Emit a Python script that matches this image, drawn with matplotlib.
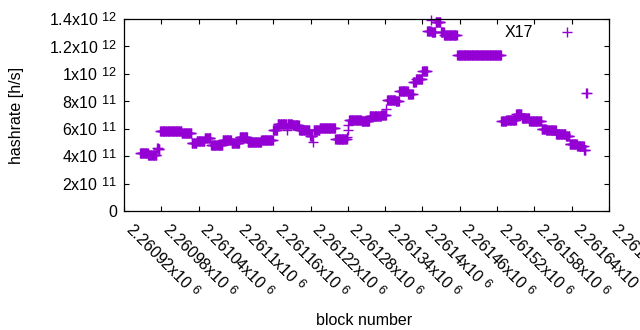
import numpy as np
import matplotlib
matplotlib.use('Agg')
import matplotlib.pyplot as plt
import matplotlib._mathtext as mathtext_internal

# first block of each run with the same hashrate
block_start = [2260946, 2260959, 2260973, 2260975, 2260978, 2261013, 2261029, 2261037,
               2261050, 2261060, 2261079, 2261093, 2261106, 2261119, 2261141, 2261160,
               2261167, 2261182, 2261183, 2261191, 2261202, 2261219, 2261224, 2261225,
               2261235, 2261260, 2261279, 2261280, 2261281, 2261282, 2261302, 2261315,
               2261334, 2261342, 2261343, 2261357, 2261363, 2261377, 2261385, 2261390,
               2261400, 2261408, 2261414, 2261415, 2261421, 2261430, 2261435, 2261456,
               2261527, 2261535, 2261551, 2261560, 2261572, 2261592, 2261599, 2261615,
               2261631, 2261637, 2261649, 2261660, 2261663]
hashrate_level = [4.23e11, 4.08e11, 4.60e11, 4.50e11, 5.83e11, 5.72e11, 4.96e11, 5.10e11,
                  5.32e11, 4.81e11, 5.21e11, 4.96e11, 5.40e11, 5.03e11, 5.18e11, 5.90e11,
                  6.31e11, 5.90e11, 6.34e11, 6.27e11, 5.87e11, 5.47e11, 5.03e11, 5.90e11,
                  6.05e11, 5.25e11, 5.40e11, 5.90e11, 6.27e11, 6.67e11, 6.53e11, 6.93e11,
                  7.00e11, 7.44e11, 8.13e11, 8.00e11, 8.75e11, 8.50e11, 9.44e11, 9.66e11,
                  1.024e12, 1.309e12, 1.396e12, 1.305e12, 1.375e12, 1.305e12, 1.283e12, 1.141e12,
                  6.53e11, 6.67e11, 7.04e11, 6.78e11, 6.55e11, 5.98e11, 5.90e11, 5.65e11,
                  5.47e11, 4.92e11, 4.74e11, 4.48e11, 8.60e11]
last_block = 2261664
series_name = 'X17'

x_ticks = np.arange(2260920, 2261701, 60)
y_ticks = np.arange(0, 1.41e12, 2e11)

plt.rcParams['font.family'] = ['Liberation Sans', 'DejaVu Sans']
plt.rcParams['mathtext.fontset'] = 'custom'
plt.rcParams['mathtext.rm'] = 'Liberation Sans'
plt.rcParams['mathtext.default'] = 'regular'
# gnuplot-like exponents: a bit bigger and raised less than mathtext default
mathtext_internal.SHRINK_FACTOR = 0.8
mathtext_internal.FontConstantsBase.sup1 = 0.45
FS = 11.5


def sci_label(v):
    if v == 0:
        return '0'
    e = int(np.floor(np.log10(abs(v)) + 1e-9))
    m = v / 10 ** e
    return '%gx10 $^{%d}$' % (round(m, 6), e)


def plot_hashrate():
    counts = np.diff(block_start + [last_block + 1])
    blocks = np.arange(block_start[0], last_block + 1)
    rates = np.repeat(hashrate_level, counts)

    fig = plt.figure(figsize=(6.4, 3.3), dpi=100)
    ax = fig.add_axes([124 / 640, 1 - 211 / 330, 485 / 640, 192 / 330])

    ax.plot(blocks, rates, linestyle='none', marker='+', color='#9400d3',
            markersize=6.5, markeredgewidth=1.0, clip_on=False, label=series_name)

    ax.set_xlim(x_ticks[0], x_ticks[-1])
    ax.set_ylim(y_ticks[0], y_ticks[-1])
    ax.set_xticks(x_ticks, ['%gx10 $^{6}$' % round(v / 1e6, 6) for v in x_ticks],
                  rotation=-45, ha='left', va='baseline', rotation_mode='anchor')
    ax.set_yticks(y_ticks, [sci_label(v) for v in y_ticks])

    ax.tick_params(direction='in', length=3.6, width=0.8, top=True, right=True,
                   labelsize=FS)
    ax.tick_params(axis='x', pad=14)
    ax.tick_params(axis='y', pad=5)
    for s in ax.spines.values():
        s.set_linewidth(0.9)

    ax.set_xlabel('block number', fontsize=FS)
    ax.set_ylabel('hashrate [h/s]', fontsize=FS)
    ax.xaxis.set_label_coords(0.495, -0.53)
    ax.yaxis.set_label_coords(-0.206, 0.5)

    ax.legend(loc='upper right', bbox_to_anchor=(0.946, 0.968), markerfirst=False,
              frameon=False, fontsize=FS, handlelength=2.0, handletextpad=1.1,
              borderpad=0, borderaxespad=0)

    fig.savefig('out.png', dpi=100)


if __name__ == '__main__':
    plot_hashrate()
